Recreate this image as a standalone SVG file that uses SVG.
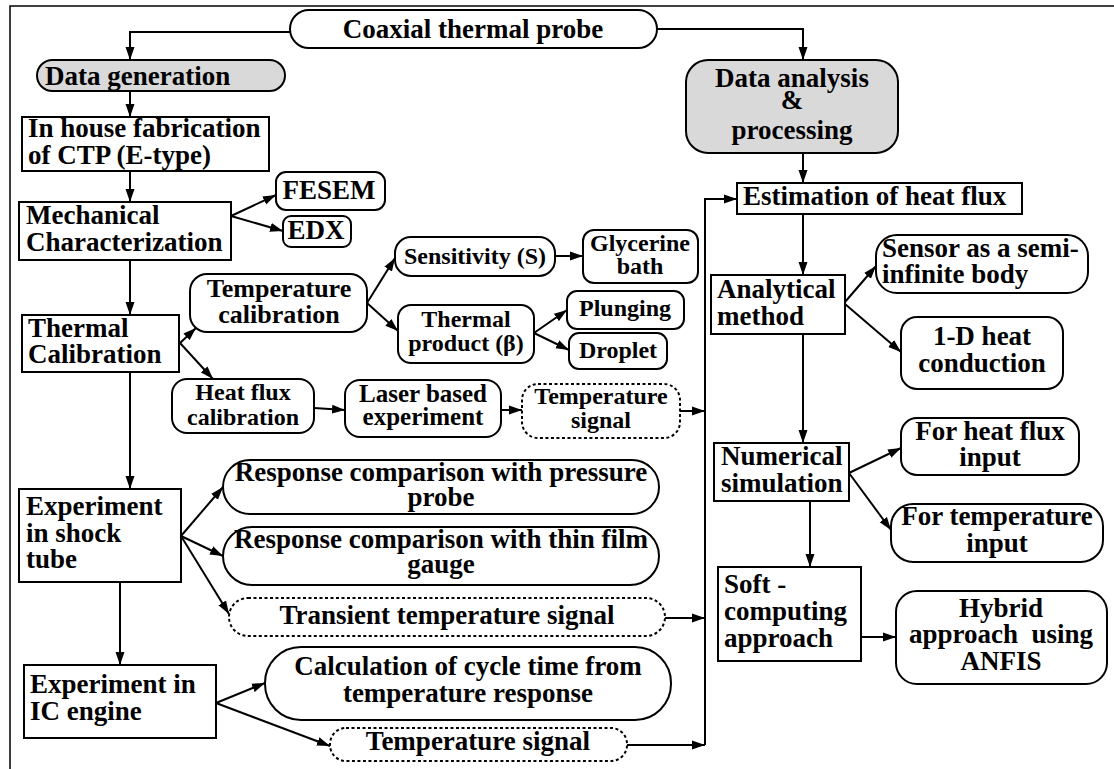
<svg xmlns="http://www.w3.org/2000/svg" width="1114" height="769" viewBox="0 0 1114 769">
<defs>
<marker id="ah" markerUnits="userSpaceOnUse" markerWidth="14" markerHeight="10" refX="13" refY="5" orient="auto">
<path d="M0,0.5 L13,5 L0,9.5 z" fill="#000"/>
</marker>
<style>
.b{fill:#fff;stroke:#000;stroke-width:2}
.g{fill:#d9d9d9;stroke:#000;stroke-width:2}
.d{fill:#fff;stroke:#000;stroke-width:2;stroke-dasharray:3,2.5}
.t{font-family:"Liberation Serif","Times New Roman",serif;font-weight:bold;font-size:27px;fill:#000}
.s{font-size:24px}
.m{text-anchor:middle}
.c{fill:none;stroke:#000;stroke-width:2;marker-end:url(#ah)}
.f{fill:none;stroke:#000;stroke-width:1.5}
</style>
</defs>
<rect width="1114" height="769" fill="#fff"/>
<path class="f" d="M10,769 V6 H1114"/>

<g id="coaxial"><rect class="b" x="290" y="10" width="367" height="38" rx="19"/><text class="t m" x="473" y="38">Coaxial thermal probe</text></g>
<g id="datagen"><rect class="g" x="37" y="60" width="248" height="31" rx="15.5"/><text class="t" x="45" y="85">Data generation</text></g>
<g id="fabrication"><rect class="b" x="22" y="117" width="247" height="54"/><text class="t" x="28" y="137">In house fabrication</text><text class="t" x="28" y="164">of CTP (E-type)</text></g>
<g id="mechanical"><rect class="b" x="19" y="202" width="212" height="58"/><text class="t" x="26" y="224">Mechanical</text><text class="t" x="26" y="251">Characterization</text></g>
<g id="fesem"><rect class="b" x="276" y="172" width="109" height="38" rx="10"/><text class="t m" x="329" y="199">FESEM</text></g>
<g id="edx"><rect class="b" x="283" y="216" width="68" height="31" rx="8"/><text class="t m" x="316" y="239">EDX</text></g>
<g id="thermalcal"><rect class="b" x="22" y="315" width="157" height="57"/><text class="t" x="28" y="337">Thermal</text><text class="t" x="28" y="363">Calibration</text></g>
<g id="tempcal"><rect class="b" x="190" y="274" width="177" height="58" rx="17"/><text class="t m" x="279" y="297" font-size="26" style="font-size:26px">Temperature</text><text class="t m" x="279" y="323" style="font-size:26px">calibration</text></g>
<g id="heatfluxcal"><rect class="b" x="172" y="379" width="142" height="54" rx="15"/><text class="t s m" x="243" y="400">Heat flux</text><text class="t s m" x="243" y="425">calibration</text></g>
<g id="sensitivity"><rect class="b" x="395" y="237" width="160" height="39" rx="16"/><text class="t s m" x="475" y="264">Sensitivity (S)</text></g>
<g id="glycerine"><rect class="b" x="583" y="230" width="115" height="53" rx="11"/><text class="t s m" x="640" y="251">Glycerine</text><text class="t s m" x="640" y="274">bath</text></g>
<g id="thermalproduct"><rect class="b" x="398" y="305" width="136" height="58" rx="13"/><text class="t s m" x="466" y="327">Thermal</text><text class="t s m" x="466" y="351">product (β)</text></g>
<g id="plunging"><rect class="b" x="567" y="291" width="117" height="38" rx="10"/><text class="t s m" x="625" y="316">Plunging</text></g>
<g id="droplet"><rect class="b" x="569" y="333" width="98" height="36" rx="10"/><text class="t s m" x="618" y="358">Droplet</text></g>
<g id="laser"><rect class="b" x="345" y="380" width="156" height="57" rx="15"/><text class="t m" x="423" y="402" style="font-size:25px">Laser based</text><text class="t m" x="423" y="425" style="font-size:25px">experiment</text></g>
<g id="tempsignal1"><rect class="d" x="522" y="384" width="158" height="54" rx="16"/><text class="t s m" x="601" y="404">Temperature</text><text class="t s m" x="601" y="428">signal</text></g>

<g id="dataanalysis"><rect class="g" x="686" y="60" width="212" height="93" rx="22"/><text class="t m" x="792" y="87">Data analysis</text><text class="t m" x="792" y="109">&amp;</text><text class="t m" x="792" y="139">processing</text></g>
<g id="estimation"><rect class="b" x="737" y="183" width="285" height="31"/><text class="t" x="743" y="205">Estimation of heat flux</text></g>
<g id="analytical"><rect class="b" x="711" y="275" width="134" height="59"/><text class="t" x="717" y="298">Analytical</text><text class="t" x="717" y="325">method</text></g>
<g id="sensor"><rect class="b" x="876" y="235" width="212" height="58" rx="21"/><text class="t" x="882" y="257">Sensor as a semi-</text><text class="t" x="882" y="283">infinite body</text></g>
<g id="conduction"><rect class="b" x="901" y="317" width="162" height="72" rx="16"/><text class="t m" x="982" y="345">1-D heat</text><text class="t m" x="982" y="372">conduction</text></g>
<g id="numerical"><rect class="b" x="714" y="443" width="135" height="58"/><text class="t" x="721" y="465">Numerical</text><text class="t" x="721" y="492">simulation</text></g>
<g id="fluxinput"><rect class="b" x="901" y="418" width="178" height="57" rx="16"/><text class="t m" x="990" y="440">For heat flux</text><text class="t m" x="990" y="466">input</text></g>
<g id="tempinput"><rect class="b" x="891" y="504" width="212" height="58" rx="22"/><text class="t m" x="997" y="525">For temperature</text><text class="t m" x="997" y="552">input</text></g>
<g id="softcomputing"><rect class="b" x="718" y="567" width="143" height="94"/><text class="t" x="724" y="593">Soft -</text><text class="t" x="724" y="620">computing</text><text class="t" x="724" y="647">approach</text></g>
<g id="hybrid"><rect class="b" x="896" y="591" width="211" height="93" rx="21"/><text class="t m" x="1001" y="617">Hybrid</text><text class="t m" x="1001" y="643" xml:space="preserve">approach  using</text><text class="t m" x="1001" y="670">ANFIS</text></g>

<g id="shocktube"><rect class="b" x="19" y="489" width="162" height="93"/><text class="t" x="26" y="515">Experiment</text><text class="t" x="26" y="542">in shock</text><text class="t" x="26" y="568">tube</text></g>
<g id="resp1"><rect class="b" x="223" y="460" width="436" height="54" rx="27"/><text class="t m" x="441" y="481">Response comparison with pressure</text><text class="t m" x="441" y="506">probe</text></g>
<g id="resp2"><rect class="b" x="223" y="527" width="436" height="58" rx="29"/><text class="t m" x="441" y="548">Response comparison with thin film</text><text class="t m" x="441" y="573">gauge</text></g>
<g id="transient"><rect class="d" x="229" y="598" width="436" height="38" rx="19"/><text class="t m" x="447" y="624">Transient temperature signal</text></g>
<g id="icengine"><rect class="b" x="24" y="665" width="192" height="73"/><text class="t" x="30" y="693">Experiment in</text><text class="t" x="30" y="720">IC engine</text></g>
<g id="cycletime"><rect class="b" x="265" y="647" width="406" height="73" rx="36"/><text class="t m" x="468" y="675">Calculation of cycle time from</text><text class="t m" x="468" y="702">temperature response</text></g>
<g id="tempsignal2"><rect class="d" x="330" y="728" width="297" height="33" rx="16"/><text class="t m" x="478" y="750">Temperature signal</text></g>

<g id="connectors">
<path class="c" d="M290,32 H130 V60"/>
<path class="c" d="M657,29 H803 V60"/>
<path class="c" d="M130,91 V117"/>
<path class="c" d="M130,171 V202"/>
<path class="c" d="M231,216 L276,195"/>
<path class="c" d="M231,216 L283,231"/>
<path class="c" d="M130,260 V315"/>
<path class="c" d="M180,343 L196,328"/>
<path class="c" d="M180,343 L213,379"/>
<path class="c" d="M367,303 L395,258"/>
<path class="c" d="M367,303 L398,331"/>
<path class="c" d="M555,256 H583"/>
<path class="c" d="M534,333 L567,310"/>
<path class="c" d="M534,333 L569,350"/>
<path class="c" d="M314,408 L345,410"/>
<path class="c" d="M501,410 H522"/>
<path class="c" d="M680,411 H705"/>
<path class="c" d="M705,745 V199 H737"/>
<path class="c" d="M803,153 V183"/>
<path class="c" d="M803,214 V275"/>
<path class="c" d="M845,302 L876,266"/>
<path class="c" d="M845,304 L901,352"/>
<path class="c" d="M803,334 V443"/>
<path class="c" d="M849,473 L901,448"/>
<path class="c" d="M849,473 L891,530"/>
<path class="c" d="M810,501 V567"/>
<path class="c" d="M861,637 H896"/>
<path class="c" d="M130,372 V489"/>
<path class="c" d="M181,536 L223,487"/>
<path class="c" d="M181,536 L223,556"/>
<path class="c" d="M181,536 L229,614"/>
<path class="c" d="M665,618 H705"/>
<path class="c" d="M120,582 V665"/>
<path class="c" d="M216,703 L265,683"/>
<path class="c" d="M216,703 L330,746"/>
<path class="c" d="M627,745 H705"/>
</g>
</svg>
